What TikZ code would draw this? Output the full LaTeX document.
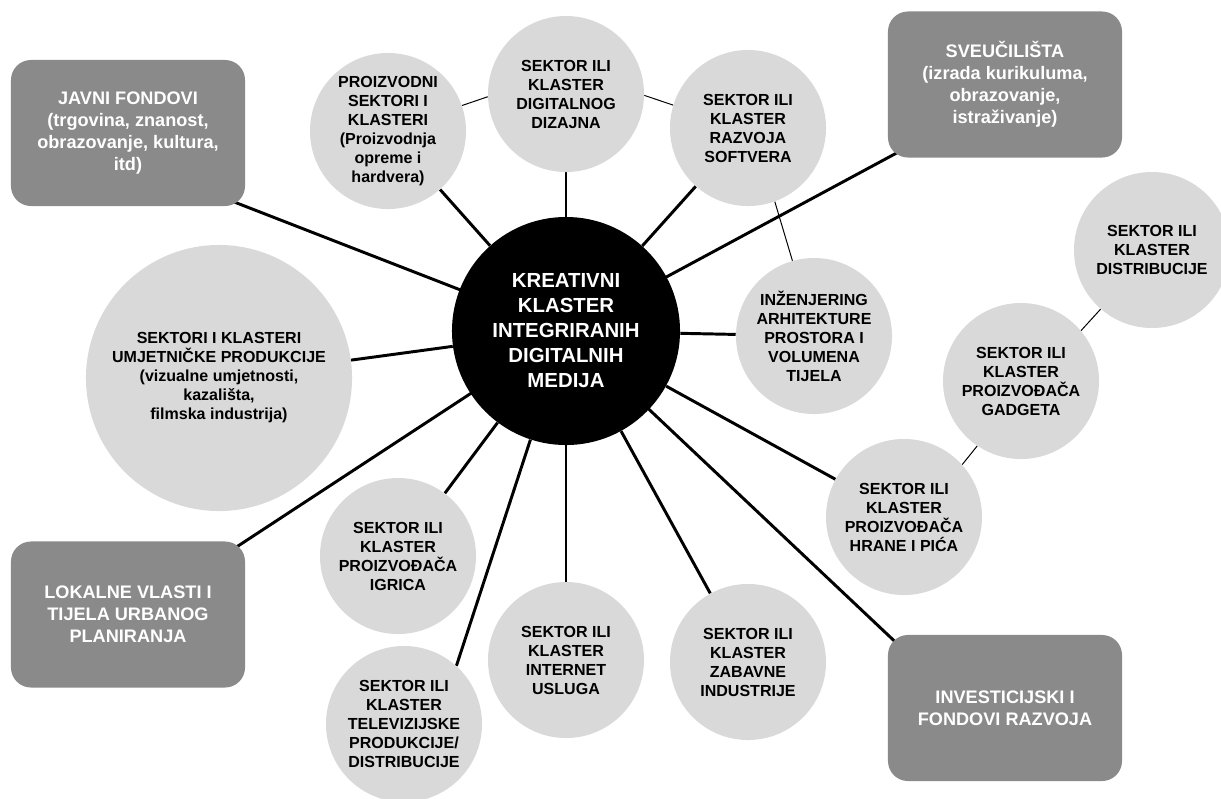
\documentclass[tikz,border=0pt]{standalone}
\usepackage{fontspec}
\setmainfont{Liberation Sans}
\usepackage{xcolor}
\definecolor{SatGray}{HTML}{D9D9D9}
\definecolor{BoxGray}{HTML}{8A8A8A}
\usetikzlibrary{backgrounds}
\newcommand*{\sattextstyle}{\fontsize{11.4}{13.5}\selectfont\bfseries}
\newcommand*{\boxtextstyle}{\fontsize{12.9}{15.6}\selectfont\bfseries}
\newcommand*{\hubtextstyle}{\fontsize{14.5}{17.8}\selectfont\bfseries}
\tikzset{
  sat/.style = {circle, fill = SatGray, minimum size = 3.9cm, inner sep = 0pt,
    align = center, text = black, font = \sattextstyle},
  bigsat/.style = {sat, minimum size = 6.65cm},
  hub/.style = {circle, fill = black, minimum size = 5.7cm, inner sep = 0pt,
    align = center, text = white, font = \hubtextstyle},
  funder/.style = {rectangle, rounded corners = 0.5cm, fill = BoxGray,
    minimum width = 5.85cm, minimum height = 3.65cm, inner sep = 0pt,
    align = center, text = white, font = \boxtextstyle},
  spoke/.style = {line width = 2.1pt},
  link/.style = {line width = 0.7pt}
}

\begin{document}
\begin{tikzpicture}[x = 0.025cm, y = -0.025cm]
  \useasboundingbox (0,0) rectangle (1221,798);
  % centre
  \node[hub] (hub) at (566,331)
    {KREATIVNI\\KLASTER\\INTEGRIRANIH\\DIGITALNIH\\MEDIJA};
  % sectors and clusters
  \node[sat] (prz) at (388,131)
    {PROIZVODNI\\SEKTORI I\\KLASTERI\\(Proizvodnja\\opreme i\\hardvera)};
  \node[sat] (dig) at (566,94) {SEKTOR ILI\\KLASTER\\DIGITALNOG\\DIZAJNA};
  \node[sat] (sof) at (748,128) {SEKTOR ILI\\KLASTER\\RAZVOJA\\SOFTVERA};
  \node[sat] (inz) at (814,336)
    {INŽENJERING\\ARHITEKTURE\\PROSTORA I\\VOLUMENA\\TIJELA};
  \node[sat] (dis) at (1152,250) {SEKTOR ILI\\KLASTER\\DISTRIBUCIJE};
  \node[sat] (gad) at (1021,381) {SEKTOR ILI\\KLASTER\\PROIZVOĐAČA\\GADGETA};
  \node[sat] (hra) at (904,517)
    {SEKTOR ILI\\KLASTER\\PROIZVOĐAČA\\HRANE I PIĆA};
  \node[sat] (zab) at (748,662) {SEKTOR ILI\\KLASTER\\ZABAVNE\\INDUSTRIJE};
  \node[sat] (int) at (566,660) {SEKTOR ILI\\KLASTER\\INTERNET\\USLUGA};
  \node[sat] (igr) at (398,556) {SEKTOR ILI\\KLASTER\\PROIZVOĐAČA\\IGRICA};
  \node[sat] (tel) at (404,724)
    {SEKTOR ILI\\KLASTER\\TELEVIZIJSKE\\PRODUKCIJE/\\DISTRIBUCIJE};
  \node[bigsat] (umj) at (219,378)
    {SEKTORI I KLASTERI\\UMJETNIČKE PRODUKCIJE\\(vizualne umjetnosti,\\kazališta,\\filmska industrija)};
  % funders and institutions
  \node[funder] (jav) at (128,133)
    {JAVNI FONDOVI\\(trgovina, znanost,\\obrazovanje, kultura,\\itd)};
  \node[funder] (sve) at (1005,84.5)
    {SVEUČILIŠTA\\(izrada kurikuluma,\\obrazovanje,\\istraživanje)};
  \node[funder] (lok) at (128,614.5)
    {LOKALNE VLASTI I\\TIJELA URBANOG\\PLANIRANJA};
  \node[funder] (inv) at (1005,708) {INVESTICIJSKI I\\FONDOVI RAZVOJA};
  \begin{scope}[on background layer]
    \foreach \sat in {prz,dig,sof,inz,hra,zab,int,igr,umj}
      \draw[spoke] (hub) -- (\sat);
    \draw[spoke] (hub) -- (tel.48);
    \draw[spoke, shorten > = -10pt] (hub.center) -- (jav.south east);
    \draw[spoke, shorten > = -10pt] (hub.center) -- (sve.south west);
    \draw[spoke, shorten > = -10pt] (hub.center) -- (lok.north east);
    \draw[spoke, shorten > = -10pt] (hub.center) -- (inv.north west);
    \draw[link] (prz.19) -- (dig.182);
    \draw[link] (dig.-1) -- (sof.163);
    \draw[link] (sof.-70) -- (inz.106);
    \draw[link] (dis.229) -- (gad.40);
    \draw[link] (gad.236) -- (hra.42);
  \end{scope}
\end{tikzpicture}
\end{document}
